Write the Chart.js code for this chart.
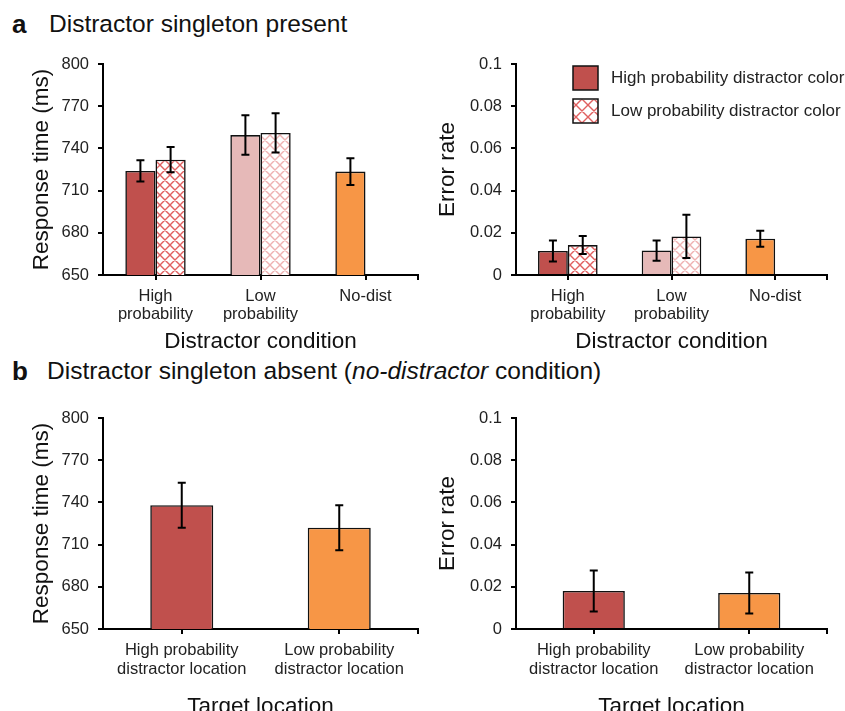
<!DOCTYPE html>
<html lang="en">
<head>
<meta charset="UTF-8">
<title>Distractor singleton present / absent</title>
<script src="https://cdn.jsdelivr.net/npm/chart.js"></script>
<style>
  html, body { margin: 0; padding: 0; overflow: hidden; background: #fff; }
  body { width: 845px; height: 711px; position: relative; font-family: "Liberation Sans", Arial, sans-serif; color: #111; }
  canvas { position: absolute; }
  .letter { position: absolute; font-weight: bold; font-size: 26px; }
  .heading { position: absolute; font-size: 24.5px; white-space: nowrap; }
</style>
</head>
<body>
<span class="letter" style="left:12px; top:9px">a</span>
<span class="heading" style="left:49px; top:10px">Distractor singleton present</span>
<span class="letter" style="left:12px; top:356px">b</span>
<span class="heading" style="left:47px; top:357px">Distractor singleton absent (<i>no-distractor</i> condition)</span>

<canvas id="rtPresent" width="420" height="315" style="left:0; top:45px"></canvas>
<canvas id="errPresent" width="425" height="315" style="left:420px; top:45px"></canvas>
<canvas id="rtAbsent" width="420" height="340" style="left:0; top:390px"></canvas>
<canvas id="errAbsent" width="425" height="340" style="left:420px; top:390px"></canvas>

<script>
  // categories
  const condLabels = [['High', 'probability'], ['Low', 'probability'], 'No-dist'];
  const locLabels = [['High probability', 'distractor location'], ['Low probability', 'distractor location']];

  // a: distractor present (solid = high probability distractor color, hatched = low probability color)
  const rtHighColor = [724, 749.5, 723.5];
  const rtHighColorErr = [7.5, 14, 9.5];
  const rtLowColor = [732, 751, null];
  const rtLowColorErr = [9, 14, null];
  const errHighColor = [0.0114, 0.0116, 0.0172];
  const errHighColorErr = [0.005, 0.0048, 0.0038];
  const errLowColor = [0.0142, 0.0183, null];
  const errLowColorErr = [0.0043, 0.0102, null];

  // b: distractor absent
  const rtLocation = [738, 722];
  const rtLocationErr = [16, 16];
  const errLocation = [0.018, 0.0171];
  const errLocationErr = [0.0097, 0.0097];

  const FONT = '"Liberation Sans", Arial, sans-serif';
  Chart.defaults.font.family = FONT;
  Chart.defaults.color = '#222';

  const RED = '#c0504d', PINK = '#e6b9b8', ORANGE = '#f79646';

  // diagonal cross hatch on white
  function hatch(color, s) {
    const c = document.createElement('canvas');
    c.width = s; c.height = s;
    const g = c.getContext('2d');
    g.fillStyle = '#fff';
    g.fillRect(0, 0, s, s);
    g.strokeStyle = color;
    g.lineWidth = 1.4;
    g.beginPath();
    for (const o of [-s, 0, s]) {
      g.moveTo(o, 0); g.lineTo(o + s, s);
      g.moveTo(o + s, 0); g.lineTo(o, s);
    }
    g.stroke();
    return g.createPattern(c, 'repeat');
  }
  const redHatch = hatch('#e06060', 10);
  const pinkHatch = hatch('#eeb2b2', 10);
  const legendHatch = hatch('#e06060', 12);

  // error bars from dataset.errors, plus the little tick at the end of the x axis
  const errorBars = {
    id: 'errorBars',
    afterDatasetsDraw(chart) {
      const ctx = chart.ctx, y = chart.scales.y;
      ctx.save();
      ctx.strokeStyle = '#000';
      ctx.lineWidth = 2;
      chart.data.datasets.forEach((ds, i) => {
        chart.getDatasetMeta(i).data.forEach((bar, j) => {
          const v = ds.data[j], e = ds.errors[j];
          if (v == null || e == null) return;
          const top = y.getPixelForValue(v + e), bot = y.getPixelForValue(v - e);
          ctx.beginPath();
          ctx.moveTo(bar.x, top); ctx.lineTo(bar.x, bot);
          ctx.moveTo(bar.x - 4, top); ctx.lineTo(bar.x + 4, top);
          ctx.moveTo(bar.x - 4, bot); ctx.lineTo(bar.x + 4, bot);
          ctx.stroke();
        });
      });
      const a = chart.chartArea;
      ctx.beginPath();
      ctx.moveTo(a.right, a.bottom); ctx.lineTo(a.right, a.bottom + 5);
      ctx.stroke();
      ctx.restore();
    }
  };

  // legend boxes inside the plot, taken from dataset label / legendFill
  const boxLegend = {
    id: 'boxLegend',
    afterDraw(chart, args, opts) {
      if (opts.x == null) return;
      const ctx = chart.ctx;
      ctx.save();
      chart.data.datasets.forEach((ds, k) => {
        const x = opts.x, y = opts.y + k * 33;
        ctx.fillStyle = ds.legendFill;
        ctx.fillRect(x, y, 25, 24);
        ctx.strokeStyle = '#111';
        ctx.lineWidth = 1.5;
        ctx.strokeRect(x, y, 25, 24);
        ctx.fillStyle = '#222';
        ctx.font = '17px ' + FONT;
        ctx.textBaseline = 'middle';
        ctx.fillText(ds.label, x + 38, y + 12);
      });
      ctx.restore();
    }
  };

  function panel(id, labels, datasets, yOpts, opt) {
    return new Chart(document.getElementById(id), {
      type: 'bar',
      data: { labels: labels, datasets: datasets },
      options: {
        responsive: false,
        animation: false,
        layout: { padding: { top: opt.top, right: opt.right, left: 0, bottom: 0 } },
        plugins: {
          legend: { display: false },
          tooltip: { enabled: false },
          boxLegend: opt.legend || {}
        },
        datasets: {
          bar: { categoryPercentage: opt.cat, barPercentage: 1, borderWidth: 1.6, borderColor: '#111', borderSkipped: 'start' }
        },
        scales: {
          x: {
            grid: { offset: false, drawOnChartArea: false, color: '#000', lineWidth: 2, tickLength: 5 },
            border: { color: '#000', width: 2 },
            ticks: { padding: opt.tickPad, font: { size: 16.5, lineHeight: 1.12 }, maxRotation: 0, autoSkip: false },
            title: { display: true, text: opt.xTitle, color: '#111', font: { size: 22.5 }, padding: { top: 0, bottom: opt.xTitlePad } },
            afterFit: s => { s.height = opt.xHeight; }
          },
          y: {
            min: yOpts.min,
            max: yOpts.max,
            ticks: { stepSize: yOpts.step, padding: 9, font: { size: 16.5 }, callback: yOpts.fmt },
            grid: { drawOnChartArea: false, color: '#000', lineWidth: 2, tickLength: 5 },
            border: { color: '#000', width: 2 },
            title: { display: true, text: yOpts.title, color: '#111', font: { size: 22.5 }, padding: { top: opt.yTitlePad, bottom: 0 } },
            afterFit: s => { s.width = opt.yWidth; }
          }
        }
      },
      plugins: [errorBars, boxLegend]
    });
  }

  const rtAxis = { min: 650, max: 800, step: 30, title: 'Response time (ms)', fmt: v => v };
  const errAxis = { min: 0, max: 0.1, step: 0.02, title: 'Error rate', fmt: v => +v.toFixed(2) };

  const topRow = { top: 19, xHeight: 85, tickPad: 7, xTitlePad: 5, cat: 0.575, xTitle: 'Distractor condition' };
  const bottomRow = { top: 28, xHeight: 101, tickPad: 7.5, xTitlePad: 10, cat: 0.4, xTitle: 'Target location' };
  const leftCol = { right: 2, yWidth: 103, yTitlePad: 28 };
  const rightCol = { right: 18, yWidth: 96, yTitlePad: 14 };

  panel('rtPresent', condLabels, [
    { label: 'High probability distractor color', data: rtHighColor, errors: rtHighColorErr, backgroundColor: [RED, PINK, ORANGE] },
    { label: 'Low probability distractor color', data: rtLowColor, errors: rtLowColorErr, backgroundColor: [redHatch, pinkHatch, '#fff'] }
  ], rtAxis, Object.assign({}, topRow, leftCol));

  panel('errPresent', condLabels, [
    { label: 'High probability distractor color', data: errHighColor, errors: errHighColorErr, backgroundColor: [RED, PINK, ORANGE], legendFill: RED },
    { label: 'Low probability distractor color', data: errLowColor, errors: errLowColorErr, backgroundColor: [redHatch, pinkHatch, '#fff'], legendFill: legendHatch }
  ], errAxis, Object.assign({}, topRow, rightCol, { legend: { x: 153, y: 21 } }));

  panel('rtAbsent', locLabels, [
    { label: 'Response time', data: rtLocation, errors: rtLocationErr, backgroundColor: [RED, ORANGE] }
  ], rtAxis, Object.assign({}, bottomRow, leftCol));

  panel('errAbsent', locLabels, [
    { label: 'Error rate', data: errLocation, errors: errLocationErr, backgroundColor: [RED, ORANGE] }
  ], errAxis, Object.assign({}, bottomRow, rightCol));
</script>
</body>
</html>
